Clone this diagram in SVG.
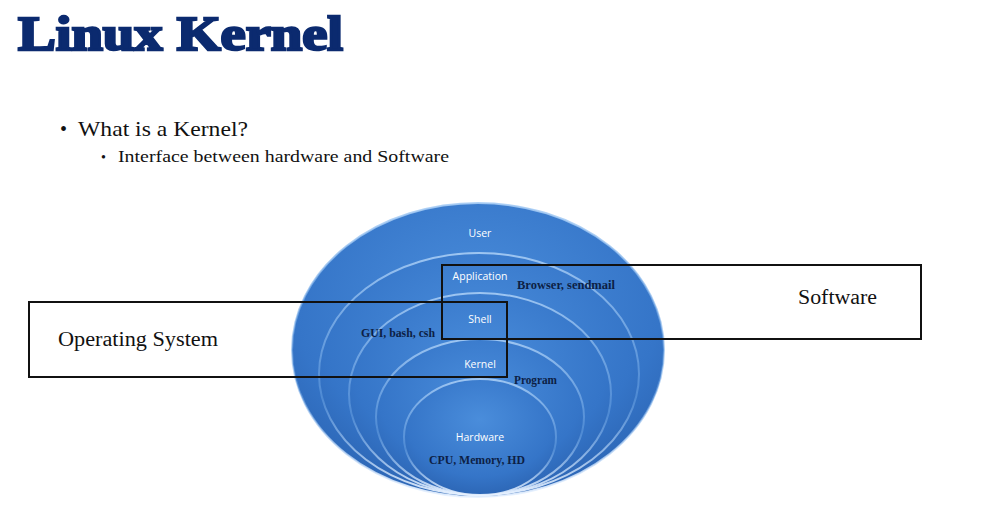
<svg xmlns="http://www.w3.org/2000/svg" width="988" height="519" viewBox="0 0 988 519">
<defs>
<radialGradient id="g" cx="0.5" cy="0.35" r="0.7">
<stop offset="0" stop-color="#4a8ddb"/>
<stop offset="0.7" stop-color="#3575c8"/>
<stop offset="1" stop-color="#2a62b0"/>
</radialGradient>
<linearGradient id="rim" x1="0" y1="0" x2="0" y2="1">
<stop offset="0" stop-color="#a8cdf5" stop-opacity="0.9"/>
<stop offset="0.6" stop-color="#6aa3e4" stop-opacity="0.5"/>
<stop offset="1" stop-color="#e8f2ff" stop-opacity="0.95"/>
</linearGradient>
<style>
.layer{fill:url(#g);stroke:url(#rim);stroke-width:2}
.lbl{font-family:"Open Sans","DejaVu Sans",sans-serif;font-size:10.5px;fill:#ffffff;text-anchor:middle}
.note{font-family:"Liberation Serif",serif;font-size:11.5px;font-weight:bold;fill:#0d1f45}
.box{fill:none;stroke:#111;stroke-width:2}
.boxtxt{font-family:"Liberation Serif",serif;font-size:20px;fill:#111}
</style>
</defs>
<rect width="988" height="519" fill="#ffffff"/>
<text x="18" y="50" font-family="Liberation Serif,serif" font-size="48" font-weight="bold" fill="#0b2a6f" stroke="#0b2a6f" stroke-width="2.5" textLength="325" lengthAdjust="spacingAndGlyphs">Linux Kernel</text>
<text x="60" y="136" font-family="Liberation Serif,serif" font-size="20" fill="#111">•</text>
<text x="78" y="136" font-family="Liberation Serif,serif" font-size="21" fill="#111" textLength="170" lengthAdjust="spacingAndGlyphs">What is a Kernel?</text>
<text x="101" y="162" font-family="Liberation Serif,serif" font-size="14" fill="#111">•</text>
<text x="118" y="162" font-family="Liberation Serif,serif" font-size="17" fill="#111" textLength="331" lengthAdjust="spacingAndGlyphs">Interface between hardware and Software</text>
<g id="user"><ellipse class="layer" cx="478" cy="350" rx="186" ry="147"/><text class="lbl" x="480" y="237">User</text></g>
<g id="application"><ellipse class="layer" cx="479" cy="374" rx="160" ry="121"/><text class="lbl" x="480" y="280">Application</text><text class="note" x="517" y="289" textLength="98" lengthAdjust="spacingAndGlyphs">Browser,  sendmail</text></g>
<g id="shell"><ellipse class="layer" cx="480" cy="394" rx="131" ry="101"/><text class="lbl" x="480" y="323">Shell</text><text class="note" x="361" y="337" textLength="74" lengthAdjust="spacingAndGlyphs">GUI, bash, csh</text></g>
<g id="kernel"><ellipse class="layer" cx="480" cy="417" rx="104" ry="78"/><text class="lbl" x="480" y="368">Kernel</text><text class="note" x="514" y="384" textLength="43" lengthAdjust="spacingAndGlyphs">Program</text></g>
<g id="hardware"><ellipse class="layer" cx="480" cy="437" rx="76" ry="58"/><text class="lbl" x="480" y="441">Hardware</text><text class="note" x="429" y="464" textLength="96" lengthAdjust="spacingAndGlyphs">CPU, Memory, HD</text></g>
<g id="software"><rect class="box" x="442" y="265" width="479" height="74"/><text class="boxtxt" x="798" y="304" textLength="79" lengthAdjust="spacingAndGlyphs">Software</text></g>
<g id="os"><rect class="box" x="29" y="302" width="478" height="75"/><text class="boxtxt" x="58" y="346" textLength="160" lengthAdjust="spacingAndGlyphs">Operating System</text></g>
<g id="connectors"></g>
</svg>
